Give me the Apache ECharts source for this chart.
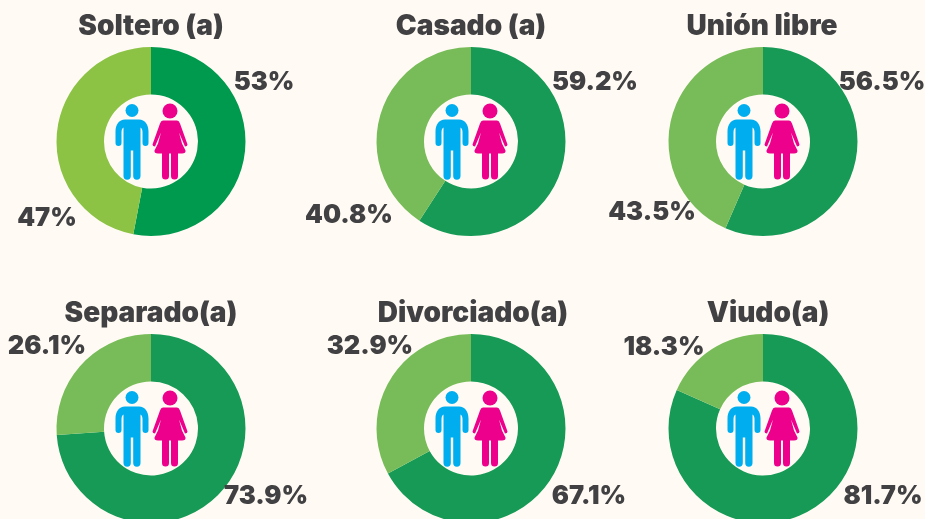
<!DOCTYPE html>
<html>
<head>
<meta charset="utf-8">
<style>html,body{margin:0;padding:0;background:#fffbf4}#c{width:925px;height:519px}</style>
<script src="https://cdn.jsdelivr.net/npm/echarts@6/dist/echarts.min.js"></script>
</head>
<body>
<div id="c"></div>
<script>
const titles = ['Soltero (a)', 'Casado (a)', 'Unión libre', 'Separado(a)', 'Divorciado(a)', 'Viudo(a)'];
const darkShare = [53, 59.2, 56.5, 73.9, 67.1, 81.7];
const lightShare = [47, 40.8, 43.5, 26.1, 32.9, 18.3];
const darkText = ['53%', '59.2%', '56.5%', '73.9%', '67.1%', '81.7%'];
const lightText = ['47%', '40.8%', '43.5%', '26.1%', '32.9%', '18.3%'];

const layout = [
  {c:[151,141.5], t:[151,27],  d:[264,82],  l:[47,218]},
  {c:[471,141.5], t:[471,27],  d:[595,82],  l:[349,215]},
  {c:[763,141.5], t:[762,27],  d:[882,82],  l:[652,212]},
  {c:[151,428.5], t:[151,314], d:[266,496], l:[47,346]},
  {c:[471,428.5], t:[473,314], d:[589,496], l:[370,346]},
  {c:[763,428.5], t:[768,314], d:[883,496], l:[664,347]}
];
const dark = ['#009a4e','#169a55','#169a55','#169a55','#169a55','#169a55'];
const light = ['#8cc345','#78bc59','#78bc59','#78bc59','#78bc59','#78bc59'];
const ink = '#414042';
const FONT = 'Inter, "Noto Sans", sans-serif';

const manPath = 'M-7 -22H7C13 -22 16.5 -17 16.5 -10V1.5A3 3 0 0 1 10.5 1.5V-9Q10.5 -13 8.5 -14V34.5A3.6 3.6 0 0 1 1.2 34.5V9H-1.2V34.5A3.6 3.6 0 0 1 -8.5 34.5V-14Q-10.5 -13 -10.5 -9V1.5A3 3 0 0 1 -16.5 1.5V-10C-16.5 -17 -13 -22 -7 -22Z';
const womanPath = 'M-7 -21H7Q9 -21 10 -18L17.5 3Q17.5 5 15 5L9 -9L12 2L15.5 9Q16 12 12 12H8V34.5A3.5 3.5 0 0 1 1 34.5V12H-1V34.5A3.5 3.5 0 0 1 -8 34.5V12H-12Q-16 12 -15.5 9L-12 2L-9 -9L-15 5Q-17.5 5 -17.5 3L-10 -18Q-9 -21 -7 -21Z';

const labelStyle = {fontFamily: FONT, fontWeight: 900, fontSize: 25.5, color: ink};

const series = titles.map((name, i) => ({
  type: 'pie',
  name,
  center: layout[i].c,
  radius: [47, 94.5],
  startAngle: 90,
  clockwise: true,
  silent: true,
  animation: false,
  avoidLabelOverlap: false,
  label: {show: true, formatter: '{b}', ...labelStyle},
  labelLine: {show: false},
  labelLayout: params => {
    const pos = params.dataIndex === 0 ? layout[i].d : layout[i].l;
    return {x: pos[0], y: pos[1], align: 'center', verticalAlign: 'middle', hideOverlap: false};
  },
  data: [
    {value: darkShare[i], name: darkText[i], itemStyle: {color: dark[i]}},
    {value: lightShare[i], name: lightText[i], itemStyle: {color: light[i]}}
  ]
}));

series.push({
  type: 'custom',
  coordinateSystem: 'none',
  silent: true,
  animation: false,
  z: 5,
  data: titles.map((_, i) => i),
  renderItem: (params, api) => {
    const p = layout[api.value(0)];
    return {
      type: 'group',
      x: p.c[0],
      y: p.c[1],
      children: [
        {type: 'circle', x: -19, y: -31, shape: {cx: 0, cy: 0, r: 6.5}, style: {fill: '#00aeef'}},
        {type: 'path', x: -19, y: 0, shape: {pathData: manPath}, style: {fill: '#00aeef'}},
        {type: 'circle', x: 19, y: -30.5, shape: {cx: 0, cy: 0, r: 7.5}, style: {fill: '#ec008c'}},
        {type: 'path', x: 19, y: 0, shape: {pathData: womanPath}, style: {fill: '#ec008c'}}
      ]
    };
  }
});

const title = titles.map((text, i) => ({
  text,
  left: layout[i].t[0],
  top: layout[i].t[1],
  padding: 0,
  textAlign: 'center',
  textVerticalAlign: 'middle',
  textStyle: {fontFamily: FONT, fontWeight: 900, fontSize: 28, color: ink}
}));

const chart = echarts.init(document.getElementById('c'), null, {renderer: 'canvas'});
chart.setOption({
  backgroundColor: '#fffbf4',
  animation: false,
  tooltip: {show: false},
  title,
  series
});
</script>
</body>
</html>
